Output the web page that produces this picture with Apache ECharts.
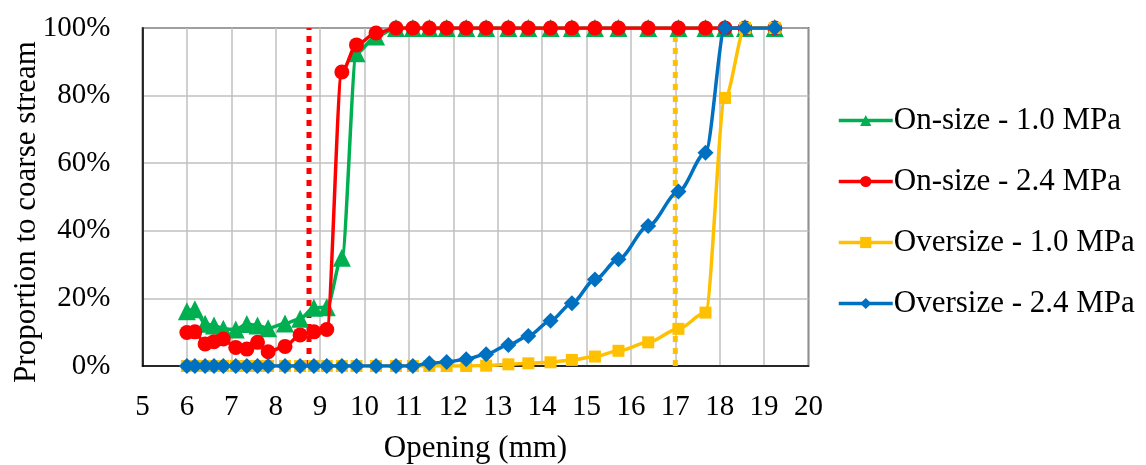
<!DOCTYPE html>
<html>
<head>
<meta charset="utf-8">
<script src="https://cdn.jsdelivr.net/npm/echarts@6/dist/echarts.min.js"></script>
<style>
html,body{margin:0;padding:0;background:#fff;}
#chart{width:1146px;height:465px;}
</style>
</head>
<body>
<div id="chart"></div>
<script>
const openings = [6.00, 6.18, 6.41, 6.61, 6.82, 7.10, 7.35, 7.59, 7.83, 8.21, 8.55, 8.86, 9.15, 9.49, 9.82, 10.26, 10.71, 11.09, 11.46, 11.85, 12.29, 12.74, 13.24, 13.69, 14.19, 14.67, 15.19, 15.72, 16.39, 17.07, 17.68, 18.12, 18.57, 19.24];
const onSize10 = [16.2, 16.8, 12.5, 12.0, 11.0, 10.8, 12.4, 12.0, 11.2, 12.6, 14.0, 17.2, 17.4, 32.0, 92.5, 97.5, 100, 100, 100, 100, 100, 100, 100, 100, 100, 100, 100, 100, 100, 100, 100, 100, 100, 100];
const onSize24 = [9.9, 10.1, 6.5, 7.2, 8.0, 5.5, 5.0, 7.0, 4.2, 5.8, 9.2, 10.1, 10.8, 87.0, 95.0, 98.5, 100, 100, 100, 100, 100, 100, 100, 100, 100, 100, 100, 100, 100, 100, 100, 100, 100, 100];
const overSize10 = [0, 0, 0, 0, 0, 0, 0, 0, 0, 0, 0, 0, 0, 0, 0, 0, 0, 0, 0, 0, 0, 0.1, 0.5, 0.8, 1.1, 1.8, 2.8, 4.5, 7.0, 11.0, 15.8, 79.3, 100, 100];
const overSize24 = [0, 0, 0, 0, 0, 0, 0, 0, 0, 0, 0, 0, 0, 0, 0, 0, 0, 0, 0.8, 1.2, 2.0, 3.5, 6.2, 8.9, 13.4, 18.6, 25.6, 31.6, 41.4, 51.6, 63.1, 100, 100, 100];
const seriesNames = ['On-size - 1.0 MPa', 'On-size - 2.4 MPa', 'Oversize - 1.0 MPa', 'Oversize - 2.4 MPa'];
const cutSizes = [8.75, 17.0];
const xTicks = [5, 20, 1];
const yTicks = [0, 100, 20];

const FONT = 'Liberation Serif';
const colors = ['#00B050', '#FF0000', '#FFC000', '#0070C0'];
const symbols = ['triangle', 'circle', 'rect', 'diamond'];
const sizes = [18, 15, 12, 16];
const allData = [onSize10, onSize24, overSize10, overSize24];

const pair = (arr) => openings.map((x, i) => [x, arr[i]]);

const series = [];
cutSizes.forEach((c, i) => {
  series.push({
    type: 'line', name: 'cut' + i, silent: true, symbol: 'none',
    data: [[c, yTicks[0]], [c, yTicks[1]]],
    lineStyle: { color: i === 0 ? colors[1] : colors[2], width: 5, type: [6, 6] },
    z: 1
  });
});
allData.forEach((arr, i) => {
  series.push({
    type: 'line', name: seriesNames[i], data: pair(arr),
    smooth: 0.3, smoothMonotone: 'x',
    symbol: symbols[i], symbolSize: sizes[i],
    lineStyle: { color: colors[i], width: 3.5 },
    itemStyle: { color: colors[i] },
    z: 2 + i
  });
});

const chart = echarts.init(document.getElementById('chart'), null, { renderer: 'canvas' });
chart.setOption({
  animation: false,
  backgroundColor: '#fff',
  grid: { left: 142.5, right: 337.5, top: 28, bottom: 99, show: true, borderColor: '#000', borderWidth: 1.5, backgroundColor: 'transparent', containLabel: false, outerBoundsMode: 'none' },
  xAxis: {
    type: 'value', min: xTicks[0], max: xTicks[1], interval: xTicks[2],
    name: 'Opening (mm)', nameLocation: 'middle', nameGap: 67,
    nameTextStyle: { fontFamily: FONT, fontSize: 31, color: '#000' },
    axisLine: { show: true, lineStyle: { color: '#000', width: 1.5 } },
    axisTick: { show: false },
    axisLabel: { fontFamily: FONT, fontSize: 29, color: '#000', margin: 27 },
    splitLine: { show: true, lineStyle: { color: '#c0c0c0', width: 1.5 } }
  },
  yAxis: {
    type: 'value', min: yTicks[0], max: yTicks[1], interval: yTicks[2],
    axisLine: { show: true, lineStyle: { color: '#000', width: 1.5 } },
    axisTick: { show: false },
    axisLabel: { fontFamily: FONT, fontSize: 29, color: '#000', margin: 32, formatter: '{value}%' },
    splitLine: { show: true, lineStyle: { color: '#c0c0c0', width: 1.5 } }
  },
  legend: {
    data: seriesNames, orient: 'vertical', left: 832, top: 100,
    itemWidth: 54, itemHeight: 14, itemGap: 30,
    lineStyle: { width: 3.5 },
    textStyle: { fontFamily: FONT, fontSize: 31, color: '#000', padding: [0, 0, 0, -4] }
  },
  graphic: [{
    type: 'text', x: 27, y: 212, rotation: Math.PI / 2,
    style: { text: 'Proportion to coarse stream', font: '31px "' + FONT + '"', fill: '#000', textAlign: 'center', textVerticalAlign: 'middle' }
  }],
  series: series
});
</script>
</body>
</html>
